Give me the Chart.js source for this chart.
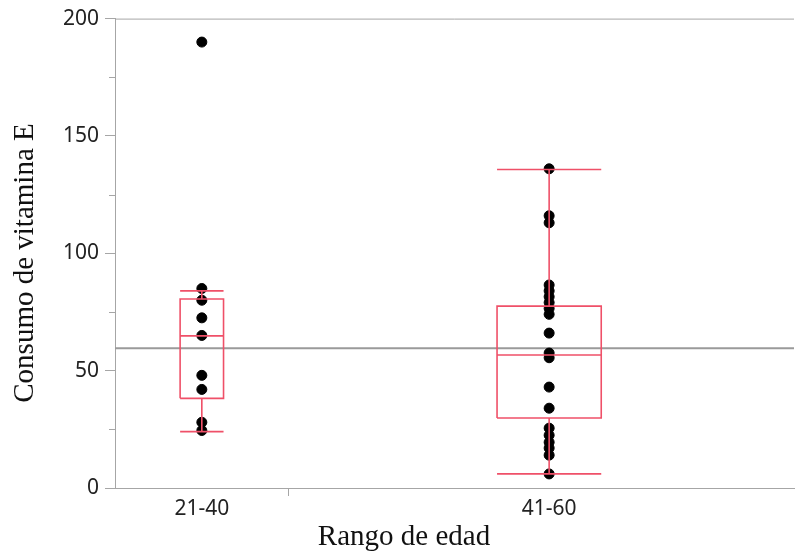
<!DOCTYPE html>
<html>
<head>
<meta charset="utf-8">
<script src="https://cdn.jsdelivr.net/npm/chart.js@4.4.1/dist/chart.umd.min.js"></script>
<style>
  html, body { margin: 0; padding: 0; background: #fff; overflow: hidden; }
  canvas { display: block; }
</style>
</head>
<body>
<canvas id="chart" width="800" height="551"></canvas>
<script>
// categories and relative band widths (JMP sizes the bands by group)
const categories = ['21-40', '41-60'];
const bandWidths = [1, 3];

// observations per group
const values2140 = [190, 85, 80, 72.5, 65, 48, 42, 28, 24.5];
const values4160 = [136, 116, 113, 86.5, 84, 81.5, 79, 76.5, 74, 66, 57.5, 55.5, 43, 34, 25.5, 22.5, 19.5, 17, 14, 6];

// box plot summaries
const whiskerLow = [24, 6];
const q1 = [38.2, 29.8];
const median = [64.8, 56.7];
const q3 = [80.5, 77.5];
const whiskerHigh = [84, 135.7];

const grandMean = 59.5;

const yTicks = [0, 50, 100, 150, 200];
const yMinorTicks = [25, 75, 125, 175];

// styling
const RED = '#ef5068';
const AXIS = '#a6a6a6';
const boxHalf = [0.125, 0.3];   // half box width, in band units
const X_MAX = 3.91;             // visible part of the x range
const TICK_FONT = { family: '"Noto Sans", "DejaVu Sans", sans-serif', size: 21 };

// band centers and dividers
const centers = [];
const dividers = [];
let acc = 0;
bandWidths.forEach((w, i) => {
  centers.push(acc + w / 2);
  acc += w;
  if (i < bandWidths.length - 1) dividers.push(acc);
});

// box outlines as broken line segments
const boxData = [];
categories.forEach((c, i) => {
  const x = centers[i], h = boxHalf[i];
  const seg = pts => { pts.forEach(p => boxData.push({x: p[0], y: p[1]})); boxData.push({x: x, y: null}); };
  seg([[x - h, q1[i]], [x + h, q1[i]], [x + h, q3[i]], [x - h, q3[i]], [x - h, q1[i]]]);
  seg([[x - h, median[i]], [x + h, median[i]]]);
  seg([[x, q3[i]], [x, whiskerHigh[i]]]);
  seg([[x, q1[i]], [x, whiskerLow[i]]]);
  seg([[x - h, whiskerHigh[i]], [x + h, whiskerHigh[i]]]);
  seg([[x - h, whiskerLow[i]], [x + h, whiskerLow[i]]]);
});

const pointData = [];
[values2140, values4160].forEach((vals, i) => {
  vals.forEach(v => pointData.push({x: centers[i], y: v}));
});

const extras = {
  id: 'extras',
  afterDraw(chart) {
    const ctx = chart.ctx;
    const a = chart.chartArea;
    const ys = chart.scales.y;
    ctx.save();
    ctx.strokeStyle = AXIS;
    ctx.lineWidth = 1;
    // top frame line
    ctx.beginPath();
    ctx.moveTo(a.left, a.top + 0.5);
    ctx.lineTo(a.right, a.top + 0.5);
    ctx.stroke();
    // minor y ticks
    yMinorTicks.forEach(v => {
      const py = Math.round(ys.getPixelForValue(v)) + 0.5;
      ctx.beginPath();
      ctx.moveTo(a.left - 6, py);
      ctx.lineTo(a.left, py);
      ctx.stroke();
    });
    // axis titles
    ctx.fillStyle = '#111';
    ctx.font = '29px "Liberation Serif", "Times New Roman", serif';
    ctx.textAlign = 'center';
    ctx.textBaseline = 'alphabetic';
    ctx.fillText('Rango de edad', 404, 545);
    ctx.translate(33, 263);
    ctx.rotate(-Math.PI / 2);
    ctx.fillText('Consumo de vitamina E', 0, 0);
    ctx.restore();
  }
};

new Chart(document.getElementById('chart'), {
  type: 'scatter',
  data: {
    datasets: [
      {
        data: boxData,
        showLine: true,
        spanGaps: false,
        borderColor: RED,
        borderWidth: 1.6,
        pointRadius: 0,
        order: 0
      },
      {
        data: pointData,
        backgroundColor: '#000',
        borderColor: '#000',
        pointRadius: 5,
        order: 1
      },
      {
        data: [{x: 0, y: grandMean}, {x: X_MAX, y: grandMean}],
        showLine: true,
        borderColor: '#9a9a9a',
        borderWidth: 2,
        pointRadius: 0,
        order: 2
      }
    ]
  },
  options: {
    responsive: false,
    animation: false,
    layout: { padding: { top: 18, right: 0, left: 0, bottom: 0 } },
    plugins: { legend: { display: false }, tooltip: { enabled: false } },
    scales: {
      x: {
        type: 'linear',
        min: 0,
        max: X_MAX,
        afterBuildTicks(scale) {
          const t = centers.map(v => ({value: v})).concat(dividers.map(v => ({value: v})));
          scale.ticks = t.sort((p, q) => p.value - q.value);
        },
        afterFit(scale) { scale.height = 63; },
        ticks: {
          autoSkip: false,
          maxRotation: 0,
          padding: 0,
          color: '#222',
          font: TICK_FONT,
          callback(v) {
            const i = centers.indexOf(v);
            return i >= 0 ? categories[i] : '';
          }
        },
        grid: {
          drawOnChartArea: false,
          tickLength: 8,
          tickColor: ctx => (ctx.tick && dividers.includes(ctx.tick.value)) ? AXIS : 'rgba(0,0,0,0)'
        },
        border: { color: AXIS }
      },
      y: {
        min: 0,
        max: 200,
        afterBuildTicks(scale) { scale.ticks = yTicks.map(v => ({value: v})); },
        afterFit(scale) { scale.width = 115; },
        ticks: {
          padding: 6,
          color: '#222',
          font: TICK_FONT
        },
        grid: { drawOnChartArea: false, tickLength: 10, tickColor: AXIS },
        border: { color: AXIS }
      }
    }
  },
  plugins: [extras]
});
</script>
</body>
</html>
